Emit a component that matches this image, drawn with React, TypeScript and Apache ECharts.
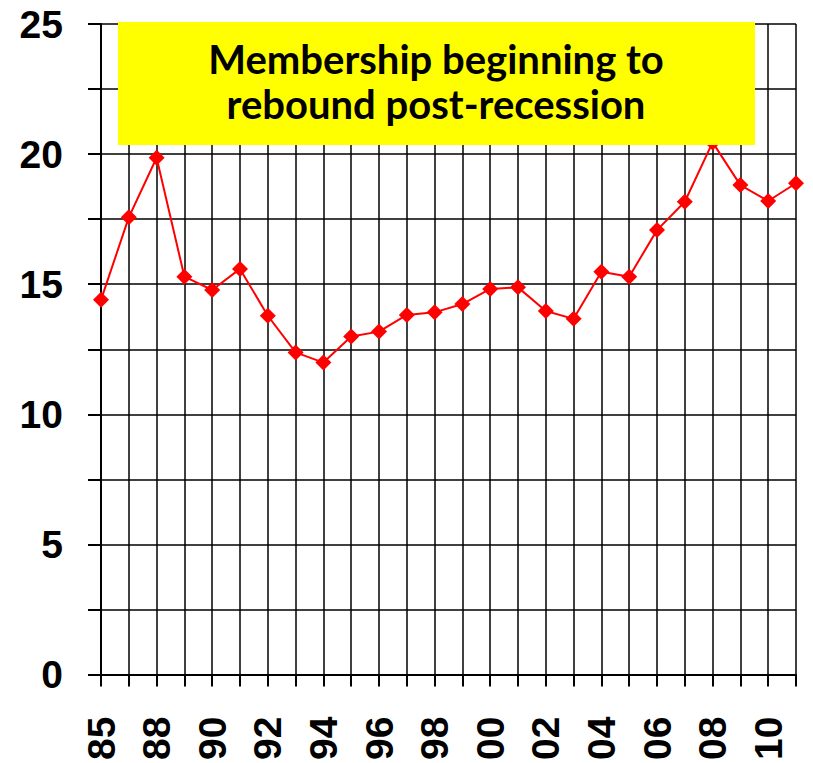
import React, { useEffect, useRef } from "react";
import * as echarts from "echarts";

const years = ["85","87","88","89","90","91","92","93","94","95","96","97","98","99","00","01","02","03","04","05","06","07","08","09","10","11"];
const membership = [14.4,17.57,19.86,15.29,14.78,15.59,13.79,12.38,11.99,12.99,13.18,13.82,13.92,14.24,14.82,14.88,13.97,13.67,15.48,15.29,17.08,18.17,20.45,18.81,18.2,18.88];
const titleLines = ["Membership beginning to", "rebound post-recession"];

export default function App() {
  const ref = useRef<HTMLDivElement>(null);
  useEffect(() => {
    const chart = echarts.init(ref.current!, null, { renderer: "svg" });
    const textStyle = {
      fill: "#000",
      font: "bold 40px Lato, 'Open Sans', sans-serif",
      align: "center",
      verticalAlign: "middle",
    };
    chart.setOption({
      animation: false,
      backgroundColor: "#ffffff",
      grid: { left: 101, right: 17, top: 24, bottom: 88, containLabel: false },
      xAxis: {
        type: "category",
        data: years,
        boundaryGap: false,
        axisLine: { lineStyle: { color: "#000", width: 2 } },
        axisTick: { show: true, interval: 0, length: 12, inside: false, lineStyle: { color: "#000", width: 2 } },
        axisLabel: {
          interval: 1,
          rotate: 90,
          margin: 42,
          color: "#000",
          fontFamily: "Liberation Sans, Arial",
          fontWeight: "bold",
          fontSize: 39,
        },
        splitLine: { show: true, interval: 0, lineStyle: { color: "#000", width: 1.5 } },
      },
      yAxis: {
        type: "value",
        min: 0,
        max: 25,
        interval: 2.5,
        axisLine: { show: true, lineStyle: { color: "#000", width: 2 } },
        axisTick: { show: true, length: 13, inside: false, lineStyle: { color: "#000", width: 2 } },
        axisLabel: {
          margin: 38,
          color: "#000",
          fontFamily: "Liberation Sans, Arial",
          fontWeight: "bold",
          fontSize: 39,
          formatter: (v: number) => (v % 5 === 0 ? String(v) : ""),
        },
        splitLine: { show: true, lineStyle: { color: "#000", width: 1.5 } },
      },
      series: [
        {
          type: "line",
          data: membership,
          symbol: "diamond",
          symbolSize: 16,
          lineStyle: { color: "#ff0000", width: 2 },
          itemStyle: { color: "#ff0000" },
          z: 3,
        },
      ],
      graphic: [
        {
          type: "group",
          z: 100,
          children: [
            {
              type: "rect",
              left: 118,
              top: 22,
              shape: { width: 637, height: 123 },
              style: { fill: "#ffff00" },
              z: 100,
            },
            {
              type: "text",
              x: 436,
              y: 59,
              style: { ...textStyle, text: titleLines[0] },
              z: 101,
            },
            {
              type: "text",
              x: 436,
              y: 104,
              style: { ...textStyle, text: titleLines[1] },
              z: 101,
            },
          ],
        },
      ],
    });
    return () => chart.dispose();
  }, []);
  return (
    <div
      ref={ref}
      style={{ position: "absolute", left: 0, top: 0, width: 813, height: 763 }}
    />
  );
}
